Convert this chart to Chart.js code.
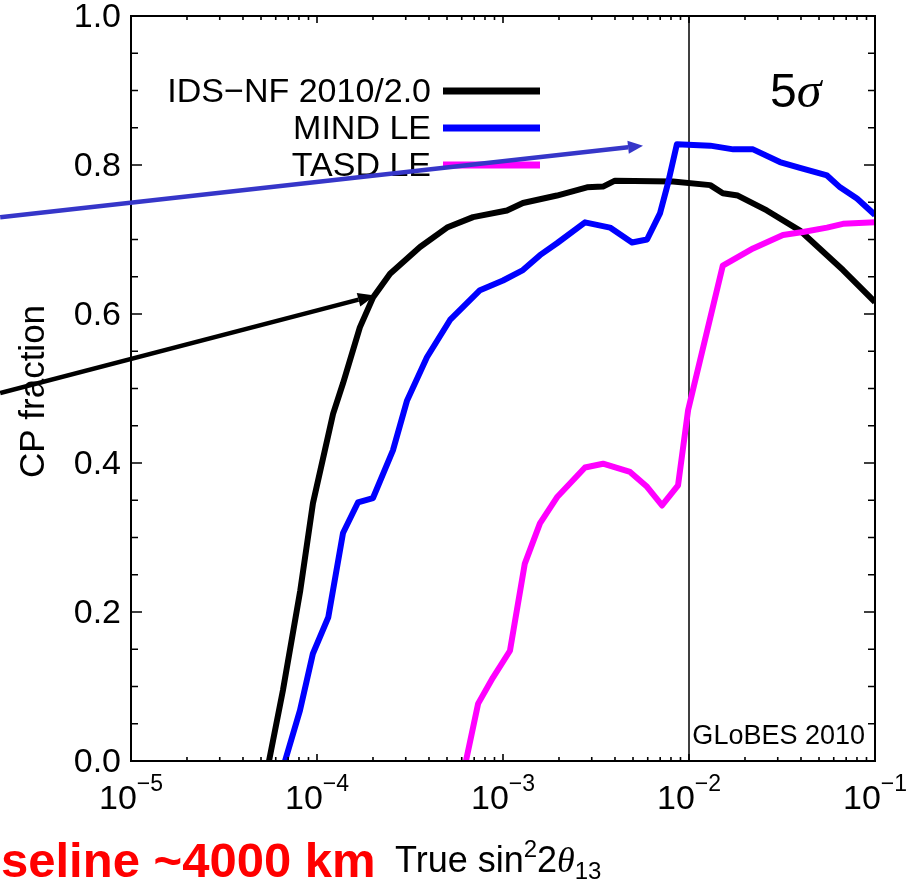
<!DOCTYPE html>
<html>
<head>
<meta charset="utf-8">
<script src="https://cdn.jsdelivr.net/npm/chart.js@4.4.0/dist/chart.umd.min.js"></script>
<style>
  html, body { margin: 0; background: #fff; }
  #wrap { width: 913px; height: 883px; }
</style>
</head>
<body>
<div id="wrap"><canvas id="chart"></canvas></div>
<script>
// axis ranges and ticks
const X_MIN = 1e-5;
const X_MAX = 1e-1;
const xDecades = [1e-5, 1e-4, 1e-3, 1e-2, 1e-1];
const xDecadeExp = ["\u22125", "\u22124", "\u22123", "\u22122", "\u22121"];
const xMinorMult = [2, 3, 4, 5, 6, 7, 8, 9];
const yLabelTicks = [0, 0.2, 0.4, 0.6, 0.8, 1.0];
const yTickLabels = ["0.0", "0.2", "0.4", "0.6", "0.8", "1.0"];
const yMinorTicks = [0.05, 0.1, 0.15, 0.25, 0.3, 0.35, 0.45, 0.5, 0.55, 0.65, 0.7, 0.75, 0.85, 0.9, 0.95];
const refLineX = 1e-2;

// IDS-NF 2010/2.0
const idsX = [5.52e-5, 6.56e-5, 8.13e-5, 9.51e-5, 1.22e-4, 1.38e-4, 1.70e-4, 2.0e-4, 2.47e-4, 3.58e-4, 5.0e-4,
    6.9e-4, 1.05e-3, 1.28e-3, 1.95e-3, 2.83e-3, 3.45e-3, 4.0e-3, 8.2e-3, 1.30e-2, 1.52e-2, 1.83e-2, 2.62e-2,
    3.95e-2, 6.73e-2, 0.1];
const idsY = [0, 0.095, 0.229, 0.346, 0.466, 0.507, 0.582, 0.622, 0.654, 0.690, 0.716,
    0.730, 0.739, 0.749, 0.759, 0.770, 0.771, 0.779, 0.778, 0.773, 0.762, 0.759, 0.739,
    0.712, 0.659, 0.616];

// MIND LE
const mindX = [6.73e-5, 8.1e-5, 9.5e-5, 1.15e-4, 1.38e-4, 1.66e-4, 2.0e-4, 2.56e-4, 3.05e-4, 3.9e-4, 5.19e-4,
    7.52e-4, 1.0e-3, 1.28e-3, 1.58e-3, 1.95e-3, 2.76e-3, 3.76e-3, 4.94e-3, 5.95e-3, 6.98e-3, 7.7e-3, 8.61e-3,
    1.30e-2, 1.73e-2, 2.21e-2, 3.08e-2, 3.95e-2, 5.52e-2, 6.49e-2, 8.0e-2, 0.1];
const mindY = [0, 0.068, 0.144, 0.193, 0.306, 0.347, 0.353, 0.417, 0.484, 0.542, 0.592,
    0.632, 0.645, 0.659, 0.679, 0.695, 0.723, 0.716, 0.696, 0.700, 0.735, 0.775, 0.828,
    0.826, 0.821, 0.821, 0.804, 0.796, 0.786, 0.770, 0.755, 0.733];

// TASD LE
const tasdX = [6.32e-4, 7.35e-4, 8.83e-4, 1.09e-3, 1.31e-3, 1.58e-3, 1.95e-3, 2.76e-3, 3.45e-3, 4.82e-3, 5.95e-3,
    7.16e-3, 8.73e-3, 9.89e-3, 1.52e-2, 2.21e-2, 3.2e-2, 4.1e-2, 5.52e-2, 6.73e-2, 0.1];
const tasdY = [0, 0.077, 0.112, 0.148, 0.265, 0.319, 0.354, 0.394, 0.399, 0.388, 0.368,
    0.343, 0.370, 0.471, 0.665, 0.688, 0.706, 0.710, 0.716, 0.721, 0.723];

const seriesLabels = ["IDS\u2212NF 2010/2.0", "MIND LE", "TASD LE"];
const seriesColors = ["#000000", "#0000ff", "#ff00ff"];

// annotation arrows in data coordinates (tail -> tip)
const arrows = [
    { from: [1.98e-6, 0.730], to: [5.66e-3, 0.826], color: "#3636c9" },
    { from: [1.98e-6, 0.494], to: [2.05e-4, 0.625], color: "#000000" },
];

function toPoints(xs, ys) {
    return xs.map((x, i) => ({ x: x, y: ys[i] }));
}

const FONT = "'Liberation Sans', Arial, Helvetica, sans-serif";

const underlay = {
    id: "underlay",
    beforeDatasetsDraw(chart) {
        const { ctx, chartArea: a, scales } = chart;
        const px = scales.x.getPixelForValue(refLineX);
        ctx.save();
        ctx.strokeStyle = "#000";
        ctx.lineWidth = 1.5;
        ctx.beginPath();
        ctx.moveTo(px, a.top);
        ctx.lineTo(px, a.bottom);
        ctx.stroke();
        ctx.restore();
    },
};

function drawArrow(ctx, x0, y0, x1, y1, color, headLen, headW) {
    const ang = Math.atan2(y1 - y0, x1 - x0);
    const bx = x1 - headLen * Math.cos(ang);
    const by = y1 - headLen * Math.sin(ang);
    ctx.strokeStyle = color;
    ctx.fillStyle = color;
    ctx.lineWidth = 4.5;
    ctx.beginPath();
    ctx.moveTo(x0, y0);
    ctx.lineTo(bx, by);
    ctx.stroke();
    ctx.beginPath();
    ctx.moveTo(x1, y1);
    ctx.lineTo(bx + (headW / 2) * Math.sin(ang), by - (headW / 2) * Math.cos(ang));
    ctx.lineTo(bx - (headW / 2) * Math.sin(ang), by + (headW / 2) * Math.cos(ang));
    ctx.closePath();
    ctx.fill();
}

const overlay = {
    id: "overlay",
    afterDraw(chart) {
        const { ctx, chartArea: a, scales } = chart;
        const sx = scales.x, sy = scales.y;
        ctx.save();

        // frame
        ctx.strokeStyle = "#000";
        ctx.lineWidth = 2;
        ctx.strokeRect(a.left, a.top, a.right - a.left, a.bottom - a.top);

        // y ticks, inward on both sides
        ctx.lineWidth = 1.6;
        const yTick = (v, len) => {
            const py = sy.getPixelForValue(v);
            ctx.beginPath();
            ctx.moveTo(a.left, py); ctx.lineTo(a.left + len, py);
            ctx.moveTo(a.right, py); ctx.lineTo(a.right - len, py);
            ctx.stroke();
        };
        yLabelTicks.forEach((v) => yTick(v, 11));
        yMinorTicks.forEach((v) => yTick(v, 7));

        // x ticks, inward top and bottom
        const xTick = (v, len) => {
            const p = sx.getPixelForValue(v);
            ctx.beginPath();
            ctx.moveTo(p, a.bottom); ctx.lineTo(p, a.bottom - len);
            ctx.moveTo(p, a.top); ctx.lineTo(p, a.top + len);
            ctx.stroke();
        };
        xDecades.forEach((d, i) => {
            xTick(d, 7);
            if (i < xDecades.length - 1) xMinorMult.forEach((m) => xTick(d * m, 4));
        });

        // y tick labels
        ctx.fillStyle = "#000";
        ctx.font = "34px " + FONT;
        ctx.textAlign = "right";
        ctx.textBaseline = "middle";
        yLabelTicks.forEach((v, i) => {
            ctx.fillText(yTickLabels[i], a.left - 10, sy.getPixelForValue(v) + 2);
        });

        // x tick labels: 10 with superscript exponent
        ctx.textBaseline = "alphabetic";
        ctx.textAlign = "left";
        xDecades.forEach((d, i) => {
            const p = sx.getPixelForValue(d);
            ctx.font = "34px " + FONT;
            const w1 = ctx.measureText("10").width;
            ctx.font = "23px " + FONT;
            const w2 = ctx.measureText(xDecadeExp[i]).width;
            const x0 = p - (w1 + w2) / 2;
            ctx.font = "34px " + FONT;
            ctx.fillText("10", x0, a.bottom + 48);
            ctx.font = "23px " + FONT;
            ctx.fillText(xDecadeExp[i], x0 + w1, a.bottom + 30);
        });

        // y axis title
        ctx.save();
        ctx.translate(44, (a.top + a.bottom) / 2 + 3);
        ctx.rotate(-Math.PI / 2);
        ctx.font = "35px " + FONT;
        ctx.textAlign = "center";
        ctx.fillText("CP fraction", 0, 0);
        ctx.restore();

        // x axis title: True sin^2 2theta_13
        let tx = 395;
        const ty = 872;
        ctx.textAlign = "left";
        ctx.font = "36px " + FONT;
        ctx.fillText("True sin", tx, ty); tx += ctx.measureText("True sin").width;
        ctx.font = "24px " + FONT;
        ctx.fillText("2", tx, ty - 15); tx += ctx.measureText("2").width;
        ctx.font = "36px " + FONT;
        ctx.fillText("2", tx, ty); tx += ctx.measureText("2").width;
        ctx.font = "italic 36px 'Liberation Serif', serif";
        ctx.fillText("\u03b8", tx, ty); tx += ctx.measureText("\u03b8").width;
        ctx.font = "24px " + FONT;
        ctx.fillText("13", tx, ty + 7);

        // red slide caption
        ctx.fillStyle = "#ff0000";
        ctx.font = "bold 49px " + FONT;
        ctx.fillText("seline ~4000 km", 1, 877);

        // 5 sigma
        ctx.fillStyle = "#000";
        ctx.font = "48px " + FONT;
        ctx.fillText("5", 770, 107);
        const w5 = ctx.measureText("5").width;
        ctx.font = "italic 50px 'Liberation Serif', serif";
        ctx.fillText("\u03c3", 770 + w5, 107);

        // GLoBES label
        ctx.font = "27px " + FONT;
        ctx.textAlign = "right";
        ctx.fillText("GLoBES 2010", 865, 744);

        // legend
        const legendRows = [91, 128, 165];
        chart.data.datasets.forEach((ds, i) => {
            ctx.fillStyle = "#000";
            ctx.font = "34px " + FONT;
            ctx.textAlign = "right";
            ctx.textBaseline = "middle";
            ctx.fillText(ds.label, 431, legendRows[i] + 2);
            ctx.strokeStyle = ds.borderColor;
            ctx.lineWidth = 7;
            ctx.beginPath();
            ctx.moveTo(443, legendRows[i]);
            ctx.lineTo(540, legendRows[i]);
            ctx.stroke();
        });

        // arrows
        arrows.forEach((ar, i) => {
            drawArrow(ctx,
                sx.getPixelForValue(ar.from[0]), sy.getPixelForValue(ar.from[1]),
                sx.getPixelForValue(ar.to[0]), sy.getPixelForValue(ar.to[1]),
                ar.color, i === 0 ? 15 : 17, i === 0 ? 13 : 14);
        });

        ctx.restore();
    },
};

const series = [toPoints(idsX, idsY), toPoints(mindX, mindY), toPoints(tasdX, tasdY)];

new Chart(document.getElementById("chart"), {
    type: "scatter",
    data: {
        datasets: series.map((pts, i) => ({
            label: seriesLabels[i],
            data: pts,
            showLine: true,
            borderColor: seriesColors[i],
            backgroundColor: seriesColors[i],
            borderWidth: 6,
            pointRadius: 0,
            tension: 0,
            borderJoinStyle: "round",
            order: 3 - i,
        })),
    },
    options: {
        responsive: true,
        maintainAspectRatio: false,
        animation: false,
        layout: { padding: { left: 131, right: 38, top: 16, bottom: 122 } },
        plugins: { legend: { display: false }, tooltip: { enabled: false } },
        scales: {
            x: { type: "logarithmic", min: X_MIN, max: X_MAX, display: false },
            y: { type: "linear", min: 0, max: 1, display: false },
        },
    },
    plugins: [underlay, overlay],
});
</script>
</body>
</html>
